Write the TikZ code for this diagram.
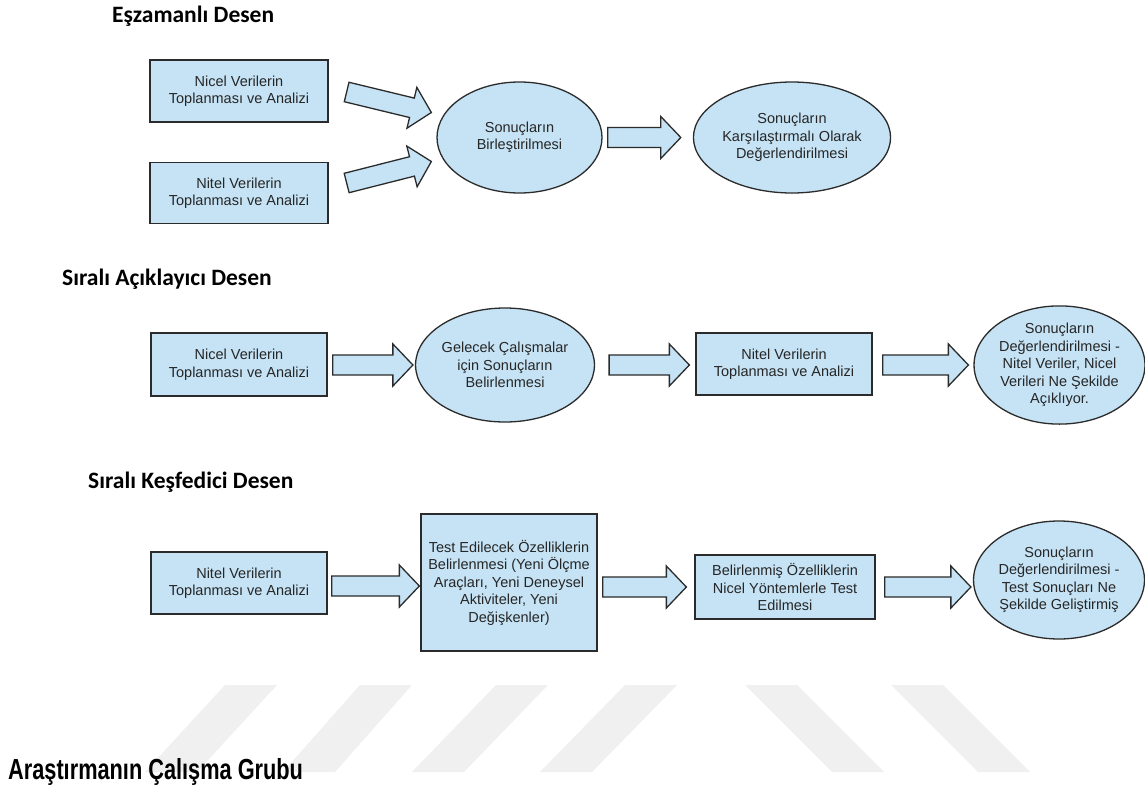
\documentclass[tikz,border=0pt]{standalone}
\usepackage{fontspec}
\setmainfont{Liberation Sans}
\newfontfamily\titlefont{Carlito}
\usetikzlibrary{calc,shapes.geometric}
\definecolor{boxfill}{HTML}{C5E3F5}
\definecolor{boxline}{HTML}{2B2B2B}
\definecolor{wmgray}{HTML}{F0F0F0}
\tikzset{
  every node/.style={font=\fontsize{14.5}{17.5}\selectfont, text=black!85},
  box/.style={draw=boxline, line width=1.3pt, fill=boxfill, align=center, inner sep=0pt},
  oval/.style={ellipse, draw=boxline, line width=1.3pt, fill=boxfill, align=center, inner sep=0pt},
  fat/.style={draw=boxline, line width=1.3pt, fill=boxfill, line join=miter},
  title/.style={font=\titlefont\bfseries\fontsize{23.5}{28}\selectfont, text=black, anchor=base west, inner sep=0pt},
  heading/.style={font=\bfseries\fontsize{29}{34}\selectfont, text=black, anchor=base west, inner sep=0pt, xscale=0.75},
  wm/.style={fill=wmgray, draw=none},
}
\newcommand\fatarrow[2]{%
  \coordinate (fah) at ($(#2)!20pt!(#1)$);
  \draw[fat] ($(#1)!10pt!90:(#2)$) -- ($(fah)!10pt!-90:(#1)$) -- ($(fah)!21pt!-90:(#1)$)
    -- (#2) -- ($(fah)!21pt!90:(#1)$) -- ($(fah)!10pt!90:(#1)$) -- ($(#1)!10pt!-90:(#2)$) -- cycle;}
\begin{document}
\begin{tikzpicture}[x=1pt,y=-1pt]
\useasboundingbox[fill=white] (0,0) rectangle (1145,787);

% watermark stripes
\foreach \t/\b in {225/145, 360/283, 496/412, 625/540, 745/832, 891/978}{
  \fill[wm] (\t,685) -- (\t+52,685) -- (\b+52,772) -- (\b,772) -- cycle;
}

% ---------- Eşzamanlı Desen ----------
\node[title] (t1) at (112,22) {Eşzamanlı Desen};
\node[box, minimum width=178pt, minimum height=62pt] (n1) at (239,91) {Nicel Verilerin\\Toplanması ve Analizi};
\node[box, minimum width=178pt, minimum height=61pt] (n2) at (239,193) {Nitel Verilerin\\Toplanması ve Analizi};
\node[oval, minimum width=165pt, minimum height=111pt] (e1) at (519.5,137.5) {Sonuçların\\Birleştirilmesi};
\node[oval, minimum width=166pt, minimum height=111pt] (e2) at (792,137.5) {Sonuçların\\Karşılaştırmalı Olarak\\Değerlendirilmesi};
\coordinate (a1s) at ($(n1.east)+(18,1)$);
\coordinate (a1e) at ($(e1.west)+(-5,-25)$);
\coordinate (a2s) at ($(n2.east)+(18,-10)$);
\coordinate (a2e) at ($(e1.west)+(-5,24)$);
\coordinate (a3s) at ($(e1.east)+(5,0)$);
\coordinate (a3e) at ($(e2.west)+(-12,0)$);
\fatarrow{a1s}{a1e}
\fatarrow{a2s}{a2e}
\fatarrow{a3s}{a3e}

% ---------- Sıralı Açıklayıcı Desen ----------
\node[title] (t2) at (62,285) {Sıralı Açıklayıcı Desen};
\node[box, minimum width=176pt, minimum height=63pt] (m1) at (239,364.5) {Nicel Verilerin\\Toplanması ve Analizi};
\node[oval, minimum width=166pt, minimum height=114pt] (m2) at (505,365) {Gelecek Çalışmalar\\için Sonuçların\\Belirlenmesi};
\node[box, minimum width=176pt, minimum height=62pt] (m3) at (784,364) {Nitel Verilerin\\Toplanması ve Analizi};
\node[oval, minimum width=168pt, minimum height=114pt] (m4) at (1059.5,365) {Sonuçların\\Değerlendirilmesi -\\Nitel Veriler, Nicel\\Verileri Ne Şekilde\\Açıklıyor.};
\coordinate (a4s) at ($(m1.east)+(5,0.5)$);
\coordinate (a4e) at ($(m2.west)+(-2,0)$);
\coordinate (a5s) at ($(m2.east)+(14,0)$);
\coordinate (a5e) at ($(m3.west)+(-6,1)$);
\coordinate (a6s) at ($(m3.east)+(10,1)$);
\coordinate (a6e) at ($(m4.west)+(-5,0)$);
\fatarrow{a4s}{a4e}
\fatarrow{a5s}{a5e}
\fatarrow{a6s}{a6e}

% ---------- Sıralı Keşfedici Desen ----------
\node[title] (t3) at (88,488) {Sıralı Keşfedici Desen};
\node[box, minimum width=176pt, minimum height=62pt] (b1) at (239,583) {Nitel Verilerin\\Toplanması ve Analizi};
\node[box, minimum width=176pt, minimum height=137pt] (b2) at (509,582.5) {Test Edilecek Özelliklerin\\Belirlenmesi (Yeni Ölçme\\Araçları, Yeni Deneysel\\Aktiviteler, Yeni\\Değişkenler)};
\node[box, minimum width=180pt, minimum height=64pt] (b3) at (785,587) {Belirlenmiş Özelliklerin\\Nicel Yöntemlerle Test\\Edilmesi};
\node[oval, minimum width=164pt, minimum height=118pt] (b4) at (1059,580) {Sonuçların\\Değerlendirilmesi -\\Test Sonuçları Ne\\Şekilde Geliştirmiş};
\coordinate (a7s) at ($(b1.east)+(4,3)$);
\coordinate (a7e) at ($(b2.west)+(-1,3.5)$);
\coordinate (a8s) at ($(b2.east)+(5,4.5)$);
\coordinate (a8e) at ($(b3.west)+(-8,0)$);
\coordinate (a9s) at ($(b3.east)+(9,0)$);
\coordinate (a9e) at ($(b4.west)+(-2,7)$);
\fatarrow{a7s}{a7e}
\fatarrow{a8s}{a8e}
\fatarrow{a9s}{a9e}

% ---------- heading ----------
\node[heading] (h) at (8,779) {Araştırmanın Çalışma Grubu};
\end{tikzpicture}
\end{document}
